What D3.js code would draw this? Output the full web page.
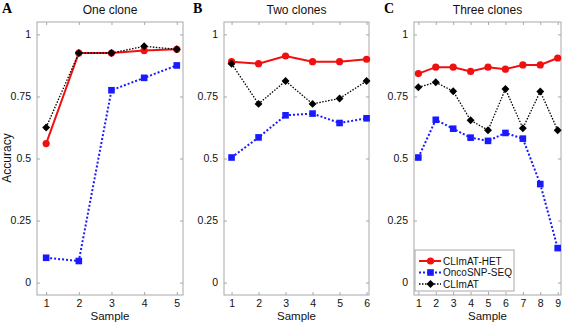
<!DOCTYPE html>
<html>
<head>
<meta charset="utf-8">
<script src="https://cdn.jsdelivr.net/npm/d3@7"></script>
<style>
  body { margin: 0; background: #fff; }
  svg { display: block; font-family: "Liberation Sans", Arial, sans-serif; }
</style>
</head>
<body>
<svg id="chart"></svg>
<script>
// Data
let seriesNames = ['CLImAT-HET', 'OncoSNP-SEQ', 'CLImAT'];
let panelTitles = ['One clone', 'Two clones', 'Three clones'];
let panelLetters = ['A', 'B', 'C'];

let samplesA = [1, 2, 3, 4, 5];
let hetA = [0.56, 0.925, 0.925, 0.935, 0.94];
let oncoA = [0.10, 0.087, 0.775, 0.825, 0.875];
let climatA = [0.625, 0.925, 0.925, 0.952, 0.94];

let samplesB = [1, 2, 3, 4, 5, 6];
let hetB = [0.89, 0.882, 0.913, 0.89, 0.89, 0.90];
let oncoB = [0.504, 0.585, 0.674, 0.681, 0.643, 0.662];
let climatB = [0.882, 0.72, 0.812, 0.72, 0.742, 0.812];

let samplesC = [1, 2, 3, 4, 5, 6, 7, 8, 9];
let hetC = [0.842, 0.868, 0.868, 0.851, 0.868, 0.86, 0.877, 0.877, 0.905];
let oncoC = [0.504, 0.656, 0.62, 0.584, 0.571, 0.603, 0.58, 0.397, 0.139];
let climatC = [0.787, 0.807, 0.771, 0.654, 0.614, 0.78, 0.622, 0.77, 0.614];

let yTicks = [0, 0.25, 0.5, 0.75, 1];
let yTickLabels = ['0', '0.25', '0.5', '0.75', '1'];

// Canvas
let width = 567;
let height = 323;
let plotTop = 22;
let plotBottom = 295;

let svg = d3.select('#chart')
    .attr('width', width)
    .attr('height', height);

// Panel layout (pixel box + x extent around the samples)
let panels = [
    {left: 37, right: 183, xMin: 0.72, xMax: 5.19, samples: samplesA, values: [hetA, oncoA, climatA]},
    {left: 224, right: 369, xMin: 0.72, xMax: 6.09, samples: samplesB, values: [hetB, oncoB, climatB]},
    {left: 414, right: 561, xMin: 0.75, xMax: 9.19, samples: samplesC, values: [hetC, oncoC, climatC]}
];

// Series styles
let styles = [
    {color: '#f01010', width: 2, dash: null, marker: 'circle'},
    {color: '#1a1aff', width: 2, dash: '2,2', marker: 'square'},
    {color: '#000000', width: 1.3, dash: '1.5,1.5', marker: 'diamond'}
];

let yScale = d3.scaleLinear()
    .domain([-0.05, 1.05])
    .range([plotBottom, plotTop]);

let drawMarker = (g, type, x, y, color) => {
    if (type === 'circle') {
        g.append('circle').attr('cx', x).attr('cy', y).attr('r', 3.6).attr('fill', color);
    } else if (type === 'square') {
        g.append('rect').attr('x', x - 3.3).attr('y', y - 3.3)
            .attr('width', 6.6).attr('height', 6.6).attr('fill', color);
    } else {
        g.append('path')
            .attr('d', d3.symbol().type(d3.symbolDiamond2).size(40)())
            .attr('transform', 'translate(' + x + ',' + y + ')')
            .attr('fill', color);
    }
};

panels.forEach((p, i) => {
    let xScale = d3.scaleLinear()
        .domain([p.xMin, p.xMax])
        .range([p.left, p.right]);

    let g = svg.append('g');

    // plot box
    g.append('rect')
        .attr('x', p.left).attr('y', plotTop)
        .attr('width', p.right - p.left).attr('height', plotBottom - plotTop)
        .attr('fill', '#fff').attr('stroke', '#a8a8a8').attr('stroke-width', 1);

    // axes, ticks pointing inside (MATLAB style)
    let xAxis = d3.axisBottom(xScale).tickValues(p.samples).tickSize(-3).tickPadding(4.5).tickFormat(d3.format('d'));
    let xAxisTop = d3.axisTop(xScale).tickValues(p.samples).tickSize(-3).tickFormat('');
    let yAxis = d3.axisLeft(yScale).tickValues(yTicks).tickSize(-3).tickPadding(6)
        .tickFormat((d, k) => yTickLabels[k]);
    let yAxisRight = d3.axisRight(yScale).tickValues(yTicks).tickSize(-3).tickFormat('');

    let ax = [
        g.append('g').attr('transform', 'translate(0,' + plotBottom + ')').call(xAxis),
        g.append('g').attr('transform', 'translate(0,' + plotTop + ')').call(xAxisTop),
        g.append('g').attr('transform', 'translate(' + p.left + ',0)').call(yAxis),
        g.append('g').attr('transform', 'translate(' + p.right + ',0)').call(yAxisRight)
    ];
    ax.forEach((a) => {
        a.select('.domain').remove();
        a.selectAll('line').attr('stroke', '#a8a8a8');
        a.selectAll('text').attr('font-size', 10.5).attr('fill', '#111')
            .attr('font-family', '"Liberation Sans", Arial, sans-serif');
    });

    // lines and markers
    p.values.forEach((vals, s) => {
        let st = styles[s];
        let line = d3.line()
            .x((d, k) => xScale(p.samples[k]))
            .y((d) => yScale(d));
        g.append('path')
            .datum(vals)
            .attr('d', line)
            .attr('fill', 'none')
            .attr('stroke', st.color)
            .attr('stroke-width', st.width)
            .attr('stroke-dasharray', st.dash);
    });
    p.values.forEach((vals, s) => {
        vals.forEach((v, k) => {
            drawMarker(g, styles[s].marker, xScale(p.samples[k]), yScale(v), styles[s].color);
        });
    });

    // title
    svg.append('text')
        .attr('x', (p.left + p.right) / 2).attr('y', 14)
        .attr('text-anchor', 'middle').attr('font-size', 12).attr('fill', '#111')
        .text(panelTitles[i]);

    // panel letter
    svg.append('text')
        .attr('x', [2, 193, 384][i]).attr('y', 13)
        .attr('font-family', '"Liberation Serif", "Times New Roman", serif')
        .attr('font-weight', 'bold').attr('font-size', 14).attr('fill', '#000')
        .text(panelLetters[i]);

    // x label
    svg.append('text')
        .attr('x', (p.left + p.right) / 2).attr('y', 320)
        .attr('text-anchor', 'middle').attr('font-size', 11.5).attr('fill', '#111')
        .text('Sample');
});

// y label
svg.append('text')
    .attr('transform', 'translate(11,158) rotate(-90)')
    .attr('text-anchor', 'middle').attr('font-size', 12).attr('fill', '#111')
    .text('Accuracy');

// legend in panel C
let lg = svg.append('g');
lg.append('rect')
    .attr('x', 415).attr('y', 250).attr('width', 99).attr('height', 41)
    .attr('fill', '#fff').attr('stroke', '#a8a8a8');
seriesNames.forEach((name, s) => {
    let st = styles[s];
    let y = 261 + s * 11.5;
    lg.append('line')
        .attr('x1', 419).attr('x2', 441).attr('y1', y).attr('y2', y)
        .attr('stroke', st.color).attr('stroke-width', st.width)
        .attr('stroke-dasharray', st.dash);
    drawMarker(lg, st.marker, 430.5, y, st.color);
    lg.append('text')
        .attr('x', 443).attr('y', y + 3.6)
        .attr('font-size', 10).attr('fill', '#111')
        .text(name);
});
</script>
</body>
</html>
